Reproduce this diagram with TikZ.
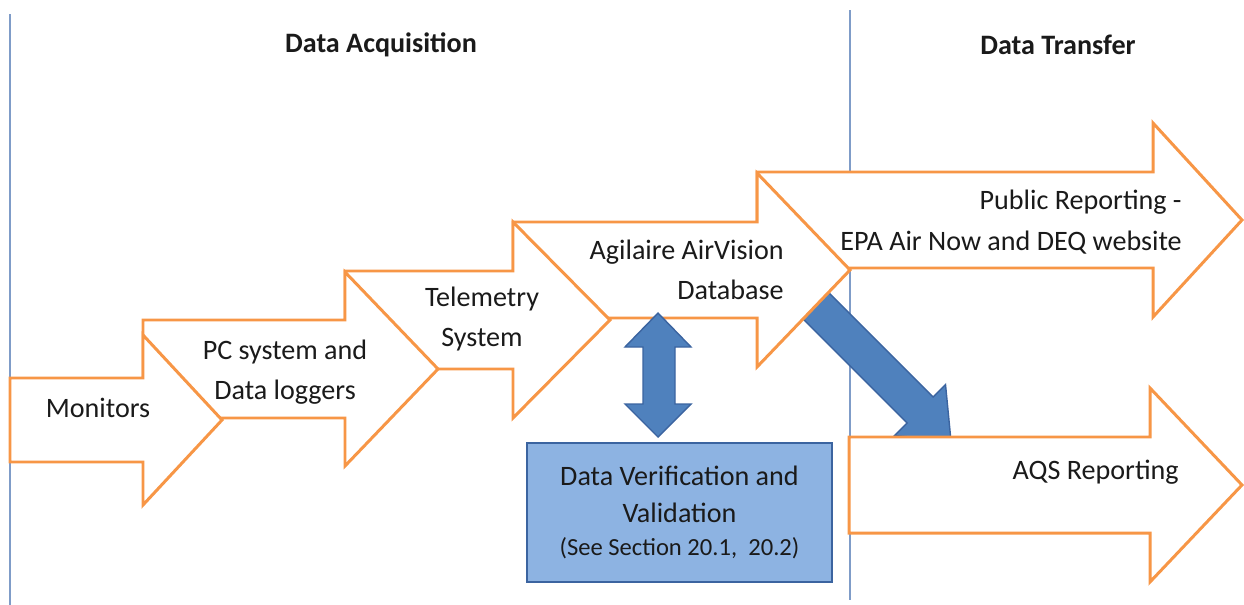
\documentclass[tikz,border=0pt]{standalone}
\usepackage{fontspec}
\setmainfont{Carlito}
\definecolor{flowor}{HTML}{F79646}
\definecolor{flowblue}{HTML}{4F81BD}
\definecolor{flowbluedk}{HTML}{3B64A0}
\definecolor{boxblue}{HTML}{8DB3E2}
\definecolor{divline}{HTML}{7F9CC8}
\definecolor{txt}{HTML}{1A1A1A}

% orange block arrow: x start, x head back, x tip, y centre, shaft half, head half
\newcommand{\flowarrow}[6]{%
  \draw[orarrow] (#1,#4-#5) -- (#2,#4-#5) -- (#2,#4-#6) -- (#3,#4)
    -- (#2,#4+#6) -- (#2,#4+#5) -- (#1,#4+#5) -- cycle;}

\begin{document}
\begin{tikzpicture}[x=0.02cm, y=-0.02cm,
    orarrow/.style={draw=flowor, fill=white, line width=1.7pt, line join=miter},
    bluearrow/.style={draw=flowbluedk, fill=flowblue, line width=0.8pt, line join=miter},
    lbl/.style={text=txt, font=\fontsize{16}{23}\selectfont, inner sep=0pt},
    ttl/.style={text=txt, font=\fontsize{16}{20}\selectfont\bfseries, inner sep=0pt}]
  \useasboundingbox (0,0) rectangle (1244,605);

  % phase dividers
  \draw[divline, line width=0.9pt] (10,14) -- (10,605);
  \draw[divline, line width=0.9pt] (850,10) -- (850,600);

  % data transfer arrows
  \flowarrow{757}{1153}{1242}{220}{48}{97}
  \node[lbl, anchor=east, align=right] (public) at (1182,222) {Public Reporting -\\EPA Air Now and DEQ website};

  % database to AQS
  \draw[bluearrow] (787,303) -- (907,423) -- (894.5,435.5) -- (951,441)
    -- (945.5,384.5) -- (933,397) -- (813,277) -- cycle;

  \flowarrow{849}{1150}{1242}{485}{48}{97}
  \node[lbl, anchor=east] (aqs) at (1179,472) {AQS Reporting};

  % data acquisition chain
  \flowarrow{513}{757}{850}{270}{48}{97}
  \node[lbl, anchor=east, align=right] (db) at (784,270) {Agilaire AirVision\\Database};

  \flowarrow{345}{513}{610}{320}{49}{98}
  \node[lbl, align=center] (tele) at (482,319) {Telemetry\\System};

  \flowarrow{143}{345}{438}{369}{49}{97}
  \node[lbl, align=center] (pc) at (285,372) {PC system and\\Data loggers};

  \flowarrow{10}{143}{222}{420}{42}{85}
  \node[lbl] (mon) at (98,408) {Monitors};

  % verification
  \draw[bluearrow] (643,347) -- (625,347) -- (658,313) -- (691,347) -- (675,347)
    -- (675,404) -- (691,404) -- (658,437) -- (625,404) -- (643,404) -- cycle;
  \node[draw=flowbluedk, fill=boxblue, line width=1.2pt, minimum width=6.1cm,
    minimum height=2.78cm, text=txt, align=center, font=\fontsize{16}{21}\selectfont]
    (verif) at (679.5,512.5) {Data Verification and\\Validation\\[-2pt]{\fontsize{14}{16}\selectfont (See Section 20.1,\ \ 20.2)}};

  % phase titles
  \node[ttl] (acq) at (381,45) {Data Acquisition};
  \node[ttl] (xfer) at (1058,45) {Data Transfer};
\end{tikzpicture}
\end{document}
